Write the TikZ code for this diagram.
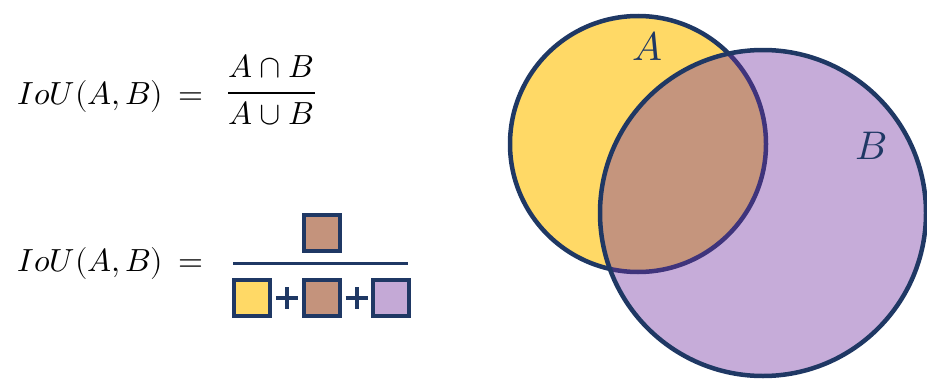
\documentclass[tikz,border=0pt]{standalone}
\usepackage{amsmath}
\usepackage{unicode-math}
\usepackage{xcolor}
\usepackage{tikz}
\usetikzlibrary{calc,positioning}
\definecolor{NavyLine}{HTML}{1F3864}
\definecolor{GoldA}{HTML}{FFD966}
\definecolor{PurpleB}{HTML}{7030A0}
\definecolor{BrownAB}{HTML}{C4937C}
\definecolor{LilacB}{HTML}{C4A9D6}

\begin{document}
\begin{tikzpicture}[x=1pt,y=-1pt,
  formula/.style={inner sep=0pt,font=\fontsize{32}{38}\selectfont},
  tile/.style={draw=NavyLine,line width=4pt,minimum size=36pt,inner sep=0pt},
  venn/.style={draw=NavyLine,line width=4.5pt},
  setlabel/.style={text=NavyLine,inner sep=0pt,font=\fontsize{40}{48}\selectfont}]
  \useasboundingbox (0,0) rectangle (927,380);
  % IoU with set symbols
  \node[formula,anchor=base west] (lhs1) at (17,104) {$IoU(A,B)$};
  \node[formula,anchor=base] (eq1) at (191,104) {$=$};
  \node[formula,anchor=base] (num1) at (271,77) {$A\cap B$};
  \node[formula,anchor=base] (den1) at (271,124) {$A\cup B$};
  \coordinate (bar1l) at (228,93);
  \coordinate (bar1r) at (315,93);
  \draw[line width=2.5pt] (bar1l) -- (bar1r);
  % IoU with coloured tiles
  \node[formula,anchor=base west] (lhs2) at (17,271) {$IoU(A,B)$};
  \node[formula,anchor=base] (eq2) at (191,271) {$=$};
  \node[tile,fill=BrownAB] (num2) at (322,232.5) {};
  \node[tile,fill=GoldA] (denA) at (251.5,298) {};
  \node[tile,fill=BrownAB] (denAB) at (322,298) {};
  \node[tile,fill=LilacB] (denB) at (391,298) {};
  \coordinate (bar2l) at (233,263);
  \coordinate (bar2r) at (408,263);
  \draw[NavyLine,line width=3pt] (bar2l) -- (bar2r);
  \foreach \l/\r in {denA/denAB,denAB/denB}{
    \coordinate (p) at ($(\l.east)!0.5!(\r.west)$);
    \draw[NavyLine,line width=4pt] ($(p)+(-11,0)$) -- ($(p)+(11,0)$)
      ($(p)+(0,-11)$) -- ($(p)+(0,11)$);
  }
  % Venn diagram
  \coordinate (cA) at (638,144);
  \coordinate (cB) at (763,213);
  \fill[GoldA] (cA) circle[radius=128pt];
  \draw[venn] (cA) circle[radius=128pt];
  \fill[PurpleB,fill opacity=0.4] (cB) circle[radius=163pt];
  \draw[venn] (cB) circle[radius=163pt];
  \node[setlabel] (labA) at (647,46) {$A$};
  \node[setlabel] (labB) at (871,146) {$B$};
\end{tikzpicture}
\end{document}
